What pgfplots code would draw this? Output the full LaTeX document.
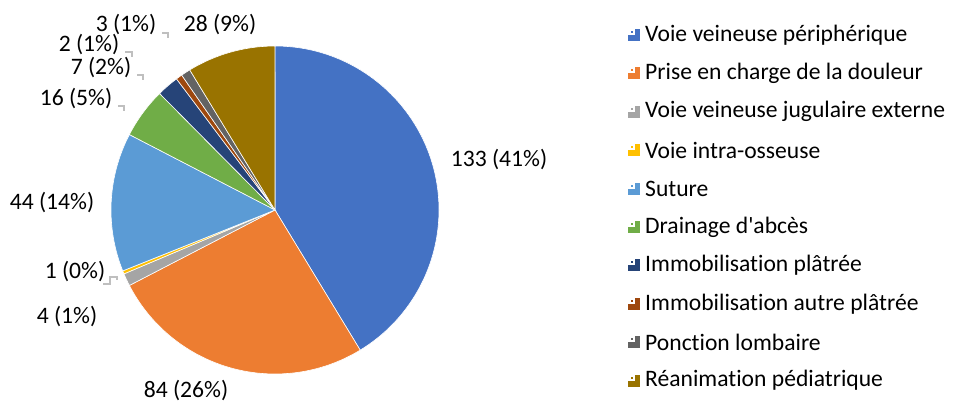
\documentclass[border=0pt]{standalone}
\usepackage{pgfplots}
\pgfplotsset{compat=1.18}
\usepackage{fontspec}
\setmainfont{Carlito}[Ligatures={NoCommon,TeXOff}]

\definecolor{c1}{HTML}{4472C4}
\definecolor{c2}{HTML}{ED7D31}
\definecolor{c3}{HTML}{A5A5A5}
\definecolor{c4}{HTML}{FFC000}
\definecolor{c5}{HTML}{5B9BD5}
\definecolor{c6}{HTML}{70AD47}
\definecolor{c7}{HTML}{264478}
\definecolor{c8}{HTML}{9E480E}
\definecolor{c9}{HTML}{636363}
\definecolor{c10}{HTML}{997300}
\definecolor{leader}{HTML}{BFBFBF}

\begin{document}
\begin{tikzpicture}[font=\fontsize{23.6}{27}\selectfont]
\begin{axis}[
    x=1pt, y=1pt,
    xmin=0, xmax=959, ymin=0, ymax=403,
    hide axis, scale only axis, clip=false]
  \path (axis cs:0,0) rectangle (axis cs:959,403);
  % slices, clockwise from 12 o'clock; total = 322
  \gdef\cum{90}
  \foreach \v/\c in {133/c1,84/c2,4/c3,1/c4,44/c5,16/c6,7/c7,2/c8,3/c9,28/c10}{
    \pgfmathsetmacro\a{\cum}
    \pgfmathsetmacro\b{\cum-\v/322*360}
    \edef\temp{\noexpand\fill[\c, draw=white, line width=0.6pt]
      (axis cs:275,193) -- ++(\a:164pt)
      arc[start angle=\a, end angle=\b, radius=164pt] -- cycle;}
    \temp
    \xdef\cum{\b}
  }
  % data labels
  \node at (axis cs:499,243) {133 (41\%)};
  \node at (axis cs:186,12) {84 (26\%)};
  \node at (axis cs:67,86) {4 (1\%)};
  \node at (axis cs:75,131) {1 (0\%)};
  \node at (axis cs:52,200) {44 (14\%)};
  \node at (axis cs:76,304) {16 (5\%)};
  \node at (axis cs:101,335) {7 (2\%)};
  \node at (axis cs:89,358) {2 (1\%)};
  \node at (axis cs:126,378) {3 (1\%)};
  \node at (axis cs:220,378) {28 (9\%)};
  % leader marks
  \draw[leader, line width=1.2pt] (axis cs:162,370) -- (axis cs:168,370) -- (axis cs:168,365);
  \draw[leader, line width=1.2pt] (axis cs:125,351) -- (axis cs:132,351) -- (axis cs:132,346);
  \draw[leader, line width=1.2pt] (axis cs:137,328) -- (axis cs:143,328) -- (axis cs:143,323);
  \draw[leader, line width=1.2pt] (axis cs:118,297) -- (axis cs:124,297) -- (axis cs:124,292);
  \draw[leader, line width=1.2pt] (axis cs:103,119) -- (axis cs:110,119) -- (axis cs:110,126)
      -- (axis cs:117,126) -- (axis cs:117,123);
  % legend
  \foreach \i/\c/\t in {0/c1/Voie veineuse périphérique,
                        1/c2/Prise en charge de la douleur,
                        2/c3/Voie veineuse jugulaire externe,
                        3/c4/Voie intra-osseuse,
                        4/c5/Suture,
                        5/c6/Drainage d'abcès,
                        6/c7/Immobilisation plâtrée,
                        7/c8/Immobilisation autre plâtrée,
                        8/c9/Ponction lombaire,
                        9/c10/Réanimation pédiatrique}{
    \pgfmathsetmacro\y{403-35-\i*38.4}
    \edef\temp{
      \noexpand\fill[\c] (axis cs:628,\y-6) rectangle (axis cs:640,\y+6);
      \noexpand\fill[white] (axis cs:628,\y) rectangle (axis cs:635,\y+6);
      \noexpand\fill[\c] (axis cs:630.5,\y+2) rectangle (axis cs:632.5,\y+4);
      \noexpand\node[anchor=west, inner sep=0pt] at (axis cs:645,\y) {\t};}
    \temp
  }
\end{axis}
\end{tikzpicture}
\end{document}
